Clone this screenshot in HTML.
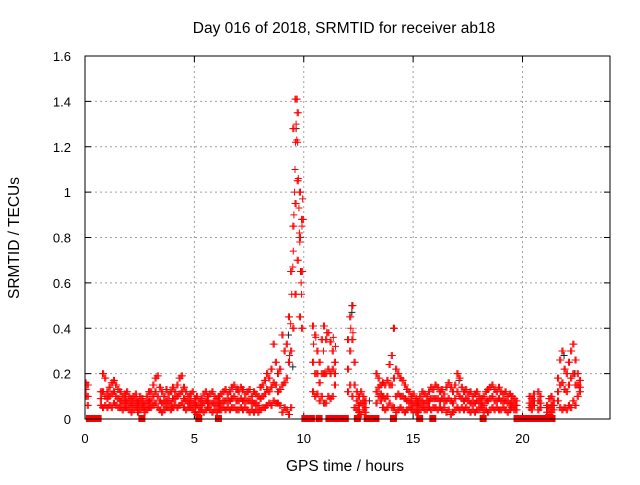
<!DOCTYPE html>
<html><head><meta charset="utf-8"><style>
html,body{margin:0;padding:0;background:#fff;}
svg text{font-family:"Liberation Sans",sans-serif;font-size:13px;fill:#000;}
svg text.big{font-size:15.5px;}
</style></head><body>
<svg id="chart" width="640" height="480" viewBox="0 0 640 480" xmlns="http://www.w3.org/2000/svg">
<rect width="640" height="480" fill="#fff"/>
<text class="big" x="344" y="33" text-anchor="middle">Day 016 of 2018, SRMTID for receiver ab18</text>
<g id="grid"></g>
<g id="ticks"></g>
<defs><clipPath id="pc"><rect x="85" y="56" width="525" height="363"/></clipPath></defs>
<g id="marks" clip-path="url(#pc)"></g>
<g id="zeros"></g>
<rect x="85" y="56" width="525" height="363" fill="none" stroke="#000" stroke-width="1"/>
<text class="big" x="345" y="471" text-anchor="middle">GPS time / hours</text>
<text class="big" transform="translate(19,238) rotate(-90)" text-anchor="middle">SRMTID / TECUs</text>
</svg>
<script>
const xTicks=[0,5,10,15,20];
const yTicks=[0,0.2,0.4,0.6,0.8,1,1.2,1.4,1.6];
const yTickLabels=["0","0.2","0.4","0.6","0.8","1","1.2","1.4","1.6"];
const n=null;
const hiVals=[0.16,0.15,n,n,n,n,n,0.12,0.2,0.18,
0.12,0.14,0.16,0.17,0.15,0.13,0.12,0.1,0.11,0.12,
0.1,0.09,0.1,0.11,0.08,0.1,0.09,0.07,0.1,0.12,
0.12,0.15,0.18,0.19,0.14,0.12,0.1,0.13,0.11,0.12,
0.14,0.12,0.15,0.18,0.19,0.14,0.12,0.1,0.11,0.12,
0.09,0.1,0.08,0.09,0.11,0.12,0.1,0.11,0.12,0.1,
0.09,0.1,0.11,0.12,0.13,0.11,0.12,0.14,0.15,0.13,
0.12,0.14,0.13,0.11,0.12,0.13,0.1,0.12,0.11,0.1,
0.14,0.15,0.17,0.2,0.18,0.22,0.33,0.25,0.2,0.22,
0.37,0.3,0.33,0.45,0.65,1.28,1.41,1.35,1.0,0.88,
n,n,n,n,0.41,0.37,0.3,0.25,0.35,0.41,
0.35,0.38,0.34,0.3,0.25,n,n,n,n,n,
0.35,0.45,0.5,0.25,0.12,0.1,0.12,0.1,0.08,n,
n,n,n,0.2,0.18,0.15,0.16,0.15,0.17,0.24,
0.28,0.4,0.22,0.2,0.18,0.17,0.15,0.13,0.12,0.1,
0.11,0.09,0.08,0.1,0.12,0.11,0.1,0.12,0.14,0.13,
0.15,0.14,0.12,0.13,0.11,0.14,0.16,0.14,0.12,0.15,
0.2,0.18,0.14,0.12,0.13,0.11,0.12,0.1,0.11,0.12,
0.1,0.09,0.1,0.12,0.13,0.14,0.15,0.13,0.12,0.14,
0.12,0.11,0.12,0.1,0.11,0.1,0.09,0.08,n,n,
n,n,n,0.1,0.09,0.11,n,0.12,0.1,n,
n,0.06,0.09,0.1,0.08,n,0.18,0.26,0.3,0.22,
0.2,0.25,0.3,0.33,0.26,0.2,0.17];
const midVals=[0.13,0.1,n,n,n,n,n,0.09,0.12,0.1,
0.09,0.1,0.11,0.12,0.1,0.09,0.08,0.07,0.08,0.08,
0.07,0.06,0.07,0.08,0.06,0.07,0.07,0.05,0.07,0.08,
0.08,0.1,0.12,0.1,0.08,0.07,0.07,0.08,0.08,0.07,
0.09,0.09,0.1,0.11,0.12,0.09,0.08,0.07,0.08,0.07,
0.06,0.06,0.05,0.06,0.07,0.08,0.07,0.07,0.07,0.07,
0.06,0.07,0.07,0.08,0.08,0.08,0.08,0.09,0.1,0.08,
0.08,0.09,0.08,0.08,0.08,0.08,0.07,0.07,0.07,0.06,
0.09,0.1,0.11,0.13,0.12,0.14,0.16,0.15,0.12,0.13,
0.15,0.16,0.18,0.25,0.3,0.85,0.95,1.05,0.8,0.65,
n,n,n,n,0.25,0.2,0.2,0.16,0.2,0.2,
0.2,0.22,0.2,0.22,0.2,n,n,n,n,n,
0.22,0.3,0.35,0.15,0.08,0.06,0.07,0.07,0.05,n,
n,n,n,0.12,0.14,0.11,0.1,0.09,0.1,0.15,
0.15,0.18,0.1,0.11,0.1,0.1,0.09,0.08,0.08,0.07,
0.07,0.06,0.06,0.07,0.08,0.07,0.07,0.08,0.09,0.09,
0.09,0.09,0.08,0.09,0.08,0.08,0.09,0.08,0.07,0.09,
0.12,0.1,0.09,0.08,0.09,0.08,0.07,0.07,0.07,0.08,
0.07,0.07,0.06,0.08,0.08,0.09,0.1,0.08,0.08,0.09,
0.08,0.08,0.08,0.07,0.07,0.07,0.06,0.06,n,n,
n,n,n,0.07,0.06,0.08,n,0.08,0.07,n,
n,0.05,0.05,0.06,0.06,n,0.12,0.15,0.16,0.13,
0.12,0.15,0.18,0.2,0.15,0.15,0.14];
const loVals=[0.1,0.06,n,n,n,n,n,0.06,0.05,0.06,
0.05,0.06,0.05,0.07,0.06,0.05,0.05,0.04,0.05,0.05,
0.04,0.03,0.04,0.05,0.03,0.04,0.05,0.03,0.04,0.05,
0.05,0.06,0.07,0.05,0.04,0.03,0.04,0.05,0.05,0.04,
0.05,0.06,0.05,0.06,0.07,0.05,0.04,0.05,0.05,0.04,
0.03,0.02,0.03,0.04,0.03,0.04,0.05,0.04,0.03,0.04,
0.03,0.04,0.04,0.05,0.04,0.05,0.04,0.05,0.05,0.04,
0.04,0.05,0.04,0.05,0.04,0.03,0.04,0.03,0.04,0.03,
0.04,0.05,0.05,0.06,0.07,0.06,0.08,0.07,0.07,0.06,
0.03,0.05,0.04,0.02,0.05,0.4,0.55,0.7,0.45,0.4,
n,n,n,n,0.12,0.1,0.11,0.08,0.1,0.07,
0.07,0.1,0.09,0.1,0.15,n,n,n,n,n,
0.12,0.15,0.1,0.05,0.04,0.03,0.02,0.04,0.03,n,
n,n,n,0.07,0.1,0.08,0.05,0.04,0.05,0.07,
0.05,0.05,0.03,0.04,0.05,0.04,0.03,0.04,0.05,0.04,
0.04,0.03,0.03,0.04,0.05,0.04,0.04,0.05,0.04,0.05,
0.05,0.04,0.05,0.04,0.05,0.03,0.04,0.02,0.03,0.04,
0.05,0.04,0.05,0.04,0.05,0.04,0.03,0.04,0.03,0.04,
0.04,0.05,0.03,0.04,0.03,0.04,0.05,0.04,0.05,0.04,
0.04,0.05,0.04,0.03,0.04,0.05,0.04,0.04,n,n,
n,n,n,0.05,0.04,0.06,n,0.04,0.05,n,
n,0.03,0.02,0.03,0.04,n,0.08,0.05,0.04,0.05,
0.04,0.06,0.05,0.08,0.06,0.1,0.12];
const peakTimes=[9.35,9.4,9.45,9.5,9.52,9.55,9.58,9.6,9.62,9.65,9.68,9.7,9.72,9.75,9.78,9.8,9.82,9.85,9.88,9.9,9.92,9.95,9.98,10.45,10.55,10.9,11.05,11.35,11.45,12.15,12.25];
const peakVals=[0.28,0.42,0.55,0.67,0.74,0.9,1.0,1.1,1.22,1.3,1.23,1.41,1.22,1.06,0.93,0.82,0.78,0.65,0.6,0.55,0.85,0.97,0.88,0.33,0.36,0.3,0.38,0.36,0.32,0.4,0.38];
const blackTimes=[9.3,9.5,9.65,9.85,12.2,12.2,14.1,13.0,7.0,17.1,21.9,22.4];
const blackVals=[0.37,0.23,1.28,0.65,0.5,0.47,0.4,0.08,0.13,0.17,0.28,0.2];
const zeroTimes=[0.2,0.3,0.4,0.5,0.6,2.6,5.2,6.1,10.05,10.15,10.25,10.35,10.7,11.15,11.25,11.5,11.6,11.7,11.8,11.9,12.45,12.9,13.0,13.1,13.2,13.3,14.1,15.3,15.9,18.2,19.75,19.85,19.95,20.05,20.3,20.4,20.5,20.75,20.85,21.05,21.35];

const X0=85,X1=610,Y0=419,Y1=56,XMAX=24,YMAX=1.6;
function xs(t){return X0+(X1-X0)*t/XMAX;}
function ys(v){return Y0-(Y0-Y1)*v/YMAX;}
const NS="http://www.w3.org/2000/svg";
const grid=document.getElementById('grid'),ticks=document.getElementById('ticks'),marks=document.getElementById('marks'),zeros=document.getElementById('zeros');
function mk(tag,attrs,parent){const e=document.createElementNS(NS,tag);for(const k in attrs)e.setAttribute(k,attrs[k]);parent.appendChild(e);return e;}
xTicks.forEach(t=>{
  const x=xs(t);
  if(t>0&&t<XMAX){const g=mk('line',{x1:x,y1:Y1,x2:x,y2:Y0,stroke:'#a0a0a0','stroke-dasharray':'2,3'},grid);
  
  }
  const tk=mk('path',{d:`M${x},${Y0}v-6M${x},${Y1}v6`,stroke:'#000'},ticks);
  
  
  const lb=mk('text',{x:x,y:443,'text-anchor':'middle'},ticks);lb.textContent=String(t);
  
  
});
yTicks.forEach((v,i)=>{
  const y=ys(v);
  if(v>0&&v<YMAX){const g=mk('line',{x1:X0,y1:y,x2:X1,y2:y,stroke:'#a0a0a0','stroke-dasharray':'2,3'},grid);
  
  }
  const tk=mk('path',{d:`M${X0},${y}h6M${X1},${y}h-6`,stroke:'#000'},ticks);
  
  
  const lb=mk('text',{x:71,y:y+5,'text-anchor':'end'},ticks);lb.textContent=yTickLabels[i];
  
  
});
function plus(t,v,color,name){
  const x=xs(t),y=ys(v);
  const p=mk('path',{d:`M${x-3.5},${y}h7M${x},${y-3.5}v7`,stroke:color,'stroke-width':1,fill:'none'},marks);
  
  
}
blackTimes.forEach((t,i)=>plus(t,blackVals[i],'#222','black-point'));
[hiVals,midVals,loVals].forEach(arr=>arr.forEach((v,i)=>{if(v!==null){plus(i/10,v,'#f00','red-point');plus(i/10+0.05,v,'#f00','red-point');}}));
peakTimes.forEach((t,i)=>plus(t,peakVals[i],'#f00','red-point'));
zeroTimes.forEach(t=>{
  const r=mk('rect',{x:xs(t)-3.5,y:Y0-4,width:7,height:7,fill:'#f00'},zeros);
  
  
});
</script>
</body></html>
